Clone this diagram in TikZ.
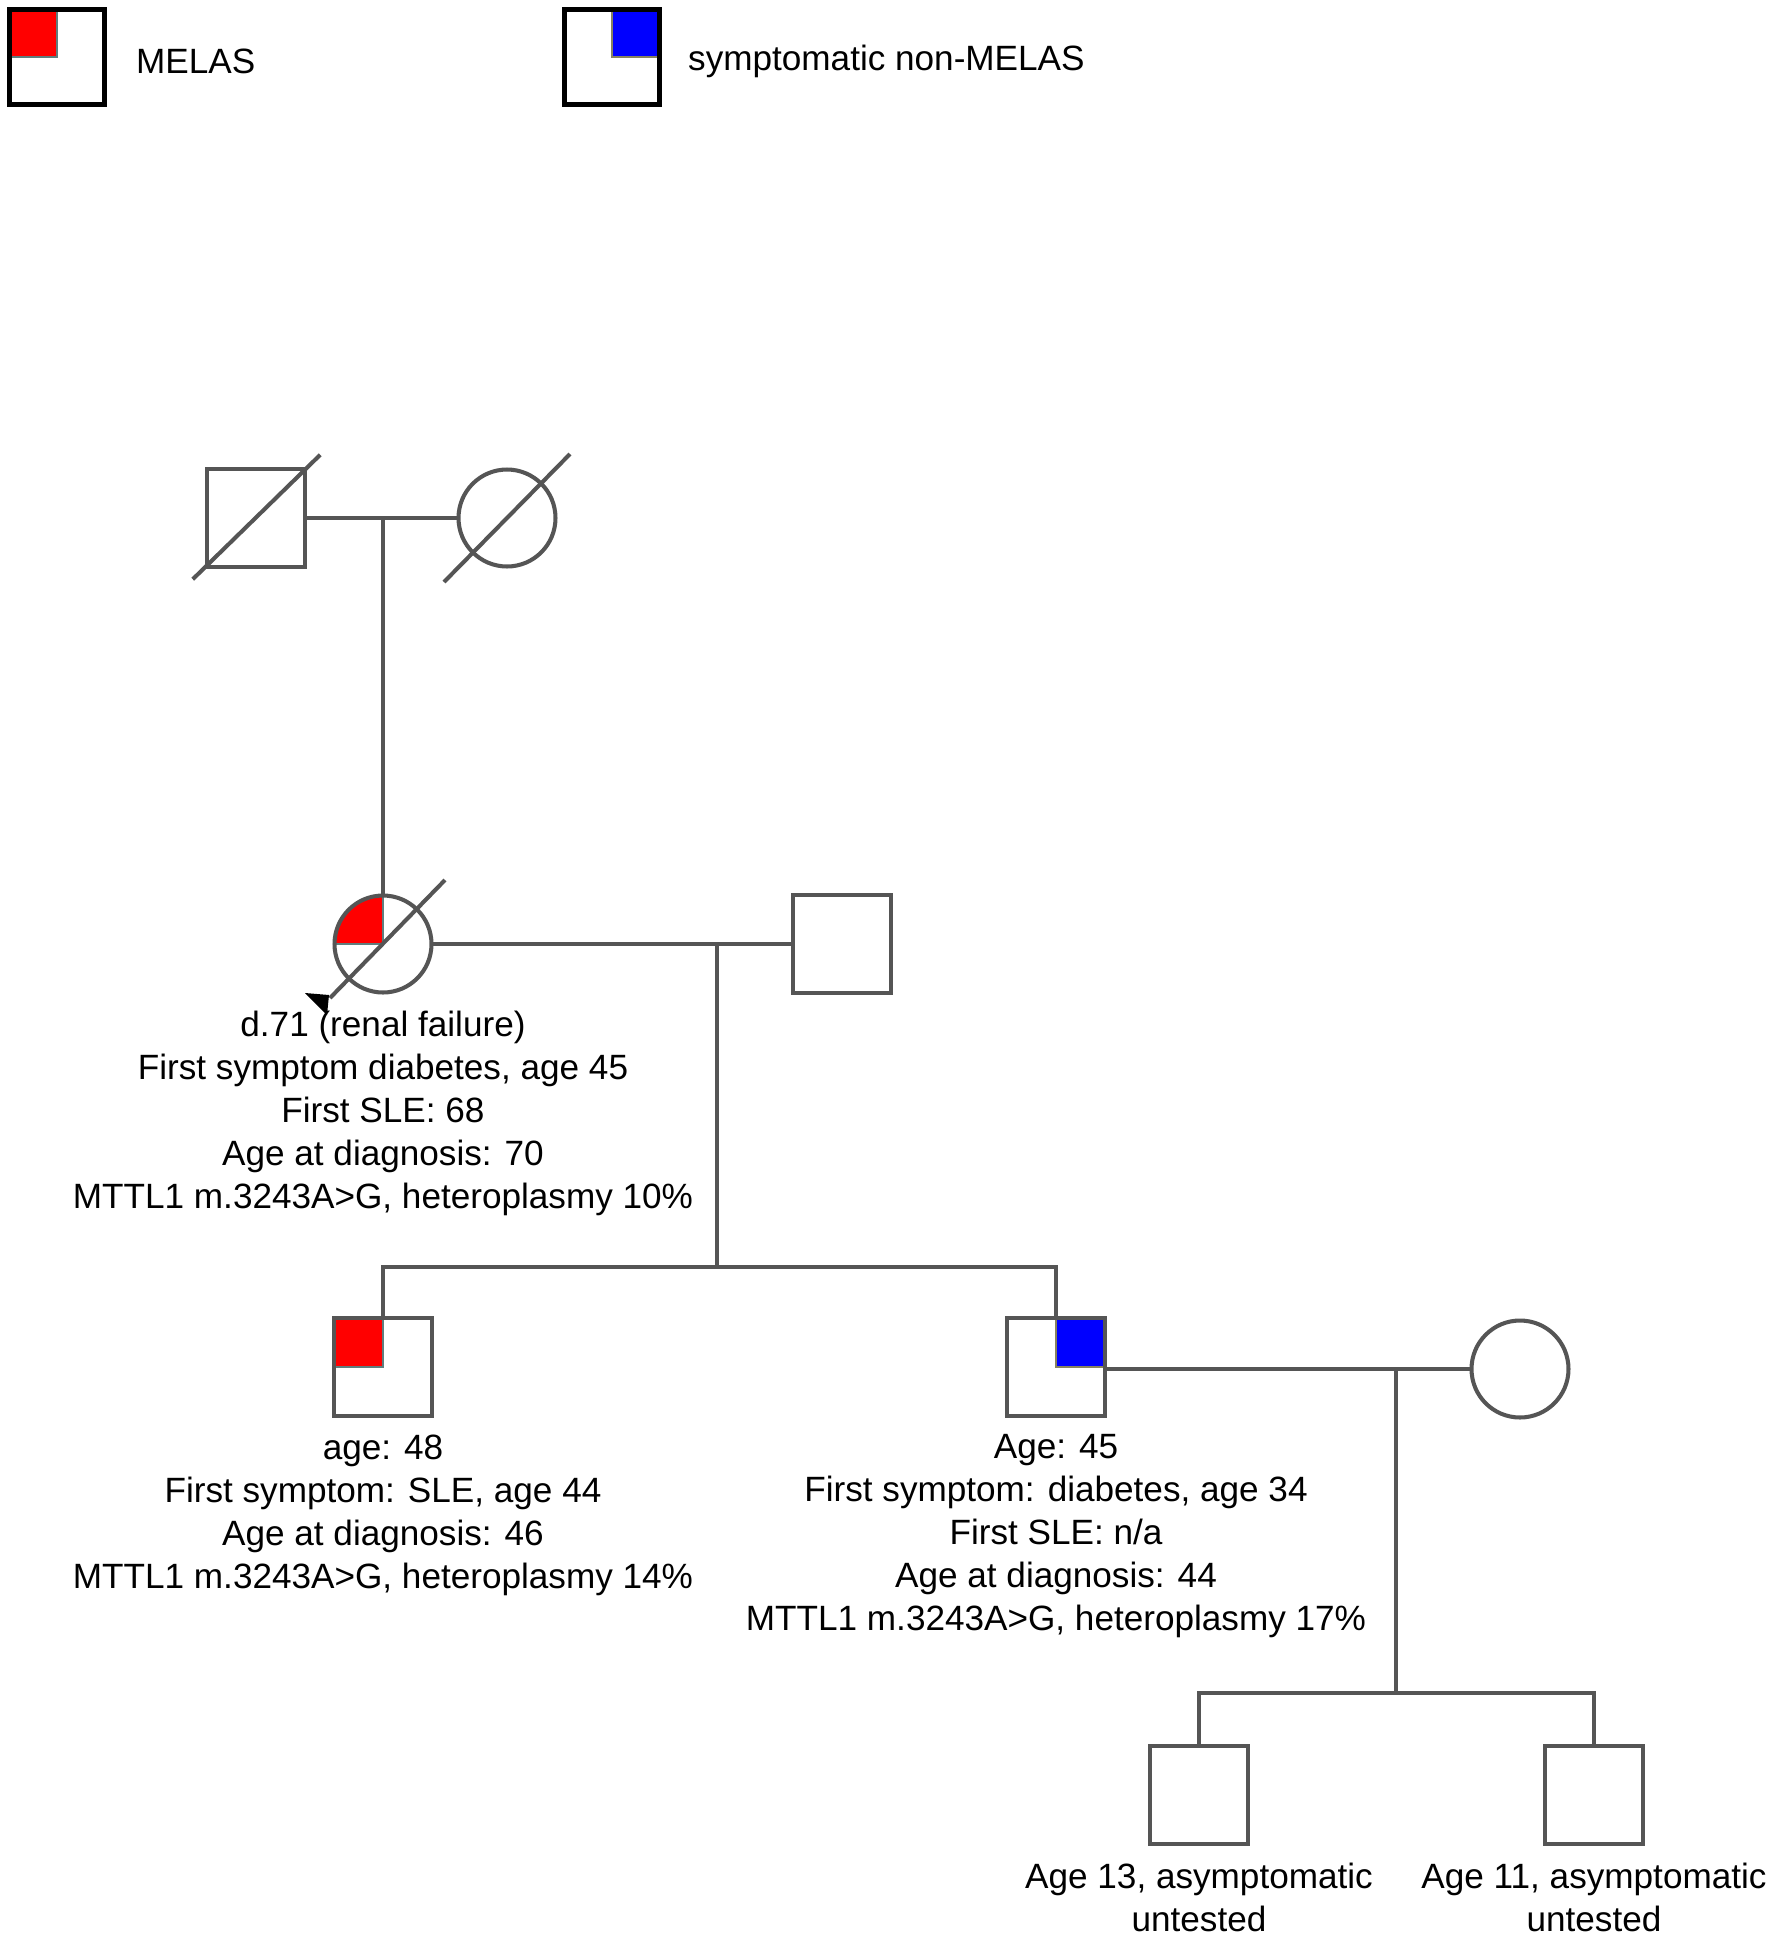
\documentclass[tikz,border=0pt]{standalone}
\usepackage{fontspec}
\setmainfont{Liberation Sans}
\usetikzlibrary{positioning}

\definecolor{pedline}{RGB}{85,85,85}
\definecolor{melasred}{RGB}{255,0,0}
\definecolor{nonblue}{RGB}{0,0,255}
\definecolor{rededge}{RGB}{95,125,125}
\definecolor{blueedge}{RGB}{135,130,95}

\tikzset{
  person/.style={draw=pedline,line width=2.3pt,inner sep=0pt,outer sep=0pt,fill=white},
  male/.style={person,rectangle,minimum size=1.97cm},
  female/.style={person,circle,minimum size=1.94cm},
  melas/.style={path picture={\filldraw[fill=melasred,draw=rededge,line width=1.4pt]
      (path picture bounding box.north west) rectangle (path picture bounding box.center);}},
  nonmelas/.style={path picture={\filldraw[fill=nonblue,draw=blueedge,line width=1.4pt]
      (path picture bounding box.north east) rectangle (path picture bounding box.center);}},
  rel/.style={draw=pedline,line width=2.3pt},
  info/.style={align=center,inner sep=0pt},
  keybox/.style={draw=black,line width=2.8pt,rectangle,minimum size=1.9cm,inner sep=0pt,outer sep=0pt}
}

\begin{document}
\begin{tikzpicture}[x=0.02cm,y=-0.02cm,every node/.append style={font=\fontsize{20}{24.5}\selectfont}]
  \useasboundingbox[fill=white] (0,0) rectangle (1772,1938);

  % Legend
  \node[keybox,melas] (key1) at (57,57) {};
  \node[anchor=west] (key1txt) at (130,61) {MELAS};
  \node[keybox,nonmelas] (key2) at (612,57) {};
  \node[anchor=west] (key2txt) at (682,61) {symptomatic non-MELAS};

  % Generation I
  \node[male] (gf) at (256,518) {};
  \node[female] (gm) at (507,518) {};
  \coordinate (m1) at (383,518);

  % Generation II
  \node[female,melas] (pb) at (383,944) {};
  \node[male] (hb) at (842,944) {};
  \coordinate (m2) at (717,944);
  \coordinate (sib2) at (717,1267);

  % Generation III
  \node[male,melas] (s1) at (383,1367) {};
  \node[male,nonmelas] (s2) at (1056,1367) {};
  \node[female] (wf) at (1520,1369) {};
  \coordinate (m3) at (1396,1369);
  \coordinate (sib3) at (1396,1693);

  % Generation IV
  \node[male] (g1) at (1199,1795) {};
  \node[male] (g2) at (1594,1795) {};

  % Lines of descent
  \draw[rel] (gf) -- (gm);
  \draw[rel] (m1) -- (pb);
  \draw[rel] (pb) -- (hb);
  \draw[rel] (m2) -- (sib2);
  \draw[rel] (s1) |- (sib2) -| (s2);
  \draw[rel] (s2.east |- m3) -- (wf);
  \draw[rel] (m3) -- (sib3);
  \draw[rel] (g1) |- (sib3) -| (g2);

  % Deceased
  \draw[rel] ([shift={(-14,12)}]gf.south west) -- ([shift={(15,-14)}]gf.north east);
  \draw[rel] ([shift={(-63,64)}]gm.center) -- ([shift={(63,-64)}]gm.center);
  \draw[rel] ([shift={(-53,54)}]pb.center) -- ([shift={(62,-64)}]pb.center);

  % Proband
  \fill[black] ([shift={(-78,49)}]pb.center) -- ([shift={(-54,51)}]pb.center)
    -- ([shift={(-56,71)}]pb.center) -- cycle;

  % Notes
  \node[info,anchor=north,below=3.6mm of pb] (pbtxt) {d.71 (renal failure)\\First symptom diabetes, age 45\\First SLE: 68\\Age at diagnosis: 70\\MTTL1 m.3243A>G, heteroplasmy 10\%};
  \node[info,anchor=north,below=3.6mm of s1] (s1txt) {age: 48\\First symptom: SLE, age 44\\Age at diagnosis: 46\\MTTL1 m.3243A>G, heteroplasmy 14\%};
  \node[info,anchor=north,below=3.6mm of s2] (s2txt) {Age: 45\\First symptom: diabetes, age 34\\First SLE: n/a\\Age at diagnosis: 44\\MTTL1 m.3243A>G, heteroplasmy 17\%};
  \node[info,anchor=north,below=3.6mm of g1] (g1txt) {Age 13, asymptomatic\\untested};
  \node[info,anchor=north,below=3.6mm of g2] (g2txt) {Age 11, asymptomatic\\untested};
\end{tikzpicture}
\end{document}
